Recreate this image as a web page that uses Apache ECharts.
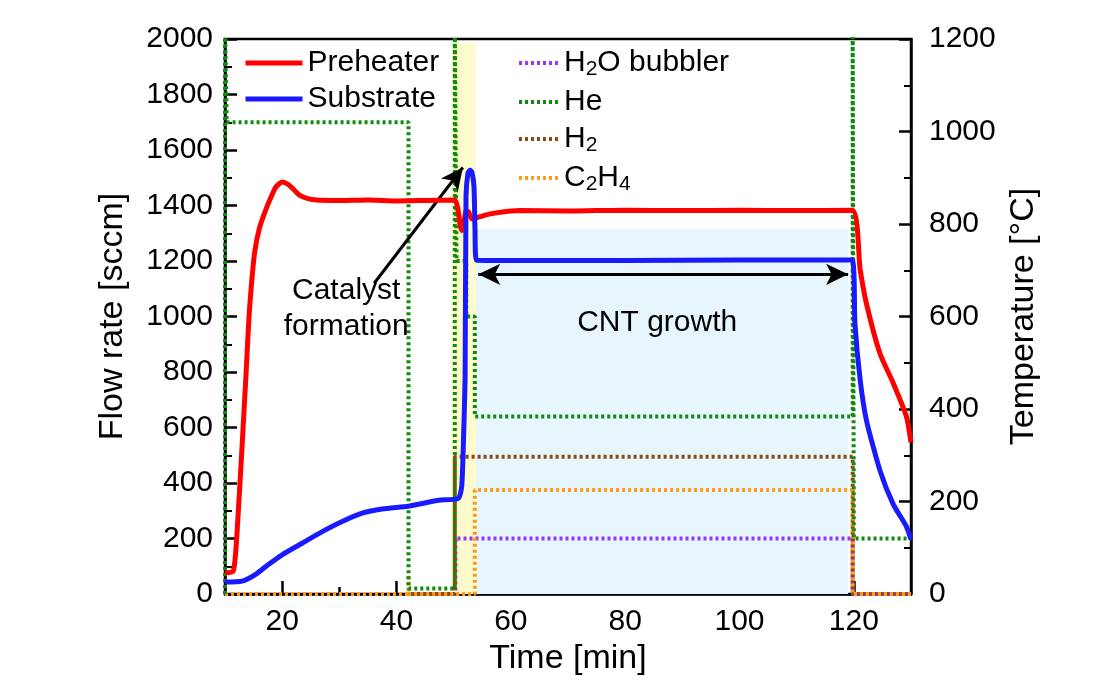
<!DOCTYPE html>
<html>
<head>
<meta charset="utf-8">
<script src="https://cdn.jsdelivr.net/npm/echarts@6/dist/echarts.min.js"></script>
<style>
  html, body { margin: 0; padding: 0; background: #fff; }
  #chart { width: 1108px; height: 681px; }
</style>
</head>
<body>
<div id="chart"></div>
<script>
// temperature curves, [time min, °C] (right axis)
var preheaterT = [10,11.4,11.8,12.1,12.5,12.9,13.3,13.7,14.2,14.7,15.2,16.0,16.8,17.9,18.9,20,21,22,23.1,24.5,26,30,35,40,45,50.2,50.7,51.1,51.4,51.8,52.2,52.6,53.2,54.6,56.4,61.6,70,80,90,100,110,119.7,121.1,122.3,124.6,126.9,129.2,130];
var preheaterV = [46,49,80,132,215,300,390,480,600,680,740,790,820,854,880,891,886,875,862,855,852,851,852,850,851,852,835,800,786,805,829,826,811,816,822,829,828,830,829,830,829,830,702,623,519,456,384,328];
var substrateT = [10,13,15.3,17.6,20,23.5,27,30.5,34,37.5,42.1,44.5,47.4,50.8,51.4,51.7,52.0,52.16,52.5,52.86,53.2,53.56,53.73,53.95,60,80,100,119.7,120.2,121.1,122.2,124.6,126.9,129.2,130];
var substrateV = [26,28,42,64,85,110,135,157,175,184,190,196,203,207,232,325,468,860,910,916,912,880,790,722,721,721,722,722,584,464,376,266,194,146,118];

// gas flows, [time min, sccm] (left axis); 2050 = off scale
var h2oT = [10,50.3,50.3,119.8,119.8,130];
var h2oV = [0,0,200,200,0,0];
var heT = [10,10,10.3,10.3,42.1,42.1,50.2,50.2,50.5,50.5,52.2,52.2,53.7,53.7,119.8,119.8,120.0,120.0,130];
var heV = [0,2050,2050,1700,1700,20,20,2050,2050,1200,1200,1000,1000,640,640,2050,2050,200,200];
var h2T = [10,50.2,50.2,119.8,119.8,130];
var h2V = [0,0,495,495,0,0];
var c2h4T = [10,42.1,42.1,42.1,53.7,53.7,119.8,119.8,130];
var c2h4V = [0,0,70,0,0,375,375,0,0];

// highlighted periods [start, end, top flow]
var catalystBand = [49.6, 53.9, 1985];
var growthBand = [53.9, 119.0, 1315];

var xMajor = [20,40,60,80,100,120];
var xMinor = [30,50,70,90,110];

function pairs(t, v) {
  return t.map(function (x, i) { return [x, v[i]]; });
}

var FONT = 'Liberation Sans';
var rich = {
  n: { fontSize: 30, fontFamily: FONT, color: '#000' },
  s: { fontSize: 21, fontFamily: FONT, color: '#000', verticalAlign: 'bottom', padding: [13, 0, 0, 0] }
};
var gasNames = {
  'H2O bubbler': '{n|H}{s|2}{n|O bubbler}',
  'He': '{n|He}',
  'H2': '{n|H}{s|2}',
  'C2H4': '{n|C}{s|2}{n|H}{s|4}'
};

var chart = echarts.init(document.getElementById('chart'));
var axisLine = { lineStyle: { color: '#000', width: 2.5 } };
var labelStyle = { fontSize: 30, fontFamily: FONT, color: '#000', formatter: function (v) { return String(v); } };
var nameStyle = { fontSize: 34, fontFamily: FONT, color: '#000' };
var dotted = function (c) {
  return { type: [3, 3], width: 4, color: c };
};

var option = {
  animation: false,
  backgroundColor: '#fff',
  grid: { left: 225, right: 197, top: 39, bottom: 83, show: true, borderColor: '#000', borderWidth: 2.5 },
  legend: [
    {
      data: ['Preheater', 'Substrate'],
      orient: 'vertical', left: 238, top: 43,
      itemWidth: 57, itemHeight: 16, itemGap: 6,
      itemStyle: { opacity: 0 },
      lineStyle: { width: 5 },
      textStyle: { fontSize: 30, fontFamily: FONT, color: '#000' }
    },
    {
      data: ['H2O bubbler', 'He', 'H2', 'C2H4'],
      orient: 'vertical', left: 512, top: 43,
      itemWidth: 40, itemHeight: 16, itemGap: 7,
      itemStyle: { opacity: 0 },
      lineStyle: { width: 4 },
      formatter: function (name) { return gasNames[name]; },
      textStyle: { rich: rich }
    }
  ],
  xAxis: [
    {
      type: 'value', min: 10, max: 130, interval: 10,
      axisLine: axisLine,
      axisTick: { inside: true, length: 13, customValues: xMajor, lineStyle: { color: '#000', width: 2.5 } },
      axisLabel: Object.assign({ margin: 13, customValues: xMajor }, labelStyle),
      splitLine: { show: false },
      name: 'Time [min]', nameLocation: 'middle', nameGap: 46,
      nameTextStyle: nameStyle
    },
    {
      type: 'value', min: 10, max: 130, interval: 10, position: 'bottom',
      axisLine: { show: false },
      axisTick: { inside: true, length: 7, customValues: xMinor, lineStyle: { color: '#000', width: 2.5 } },
      axisLabel: { show: false },
      splitLine: { show: false }
    }
  ],
  yAxis: [
    {
      type: 'value', min: 0, max: 2000, interval: 200,
      axisLine: Object.assign({ show: true }, axisLine),
      axisTick: { inside: true, length: 12, lineStyle: { color: '#000', width: 2.5 } },
      minorTick: { show: true, splitNumber: 2, length: 7, lineStyle: { color: '#000', width: 2 } },
      axisLabel: Object.assign({ margin: 12 }, labelStyle),
      splitLine: { show: false },
      name: 'Flow rate [sccm]', nameLocation: 'middle', nameGap: 95, nameRotate: 90,
      nameTextStyle: nameStyle
    },
    {
      type: 'value', min: 0, max: 1200, interval: 200, position: 'right',
      axisLine: Object.assign({ show: true }, axisLine),
      axisTick: { inside: true, length: 12, lineStyle: { color: '#000', width: 2.5 } },
      minorTick: { show: true, splitNumber: 2, length: 7, lineStyle: { color: '#000', width: 2 } },
      axisLabel: Object.assign({ margin: 18 }, labelStyle),
      splitLine: { show: false },
      name: 'Temperature [°C]', nameLocation: 'middle', nameGap: 94, nameRotate: 90,
      nameTextStyle: nameStyle
    }
  ],
  series: [
    {
      name: 'bands', type: 'line', data: [], z: 1, silent: true,
      markArea: {
        silent: true,
        data: [
          [{ coord: [catalystBand[0], 0], itemStyle: { color: '#fdfbcc' } }, { coord: [catalystBand[1], catalystBand[2]] }],
          [{ coord: [growthBand[0], 0], itemStyle: { color: '#e6f6fc' } }, { coord: [growthBand[1], growthBand[2]] }]
        ]
      }
    },
    {
      name: 'H2O bubbler', type: 'line', data: pairs(h2oT, h2oV), symbol: 'none', z: 3,
      color: '#9933ff', lineStyle: dotted('#9933ff')
    },
    {
      name: 'H2', type: 'line', data: pairs(h2T, h2V), symbol: 'none', z: 3,
      color: '#8b4a14', lineStyle: dotted('#8b4a14')
    },
    {
      name: 'C2H4', type: 'line', data: pairs(c2h4T, c2h4V), symbol: 'none', z: 3,
      color: '#ff9a1a', lineStyle: dotted('#ff9a1a')
    },
    {
      name: 'He', type: 'line', data: pairs(heT, heV), symbol: 'none', z: 3,
      color: '#128a12', lineStyle: dotted('#128a12')
    },
    {
      name: 'Preheater', type: 'line', yAxisIndex: 1, data: pairs(preheaterT, preheaterV), symbol: 'none', z: 5,
      smooth: 0.2,
      color: '#ff0000', lineStyle: { width: 5, color: '#ff0000' }
    },
    {
      name: 'Substrate', type: 'line', yAxisIndex: 1, data: pairs(substrateT, substrateV), symbol: 'none', z: 6,
      smooth: 0.2,
      color: '#1a1aff', lineStyle: { width: 5, color: '#1a1aff' }
    },
    {
      name: 'notes', type: 'line', data: [], z: 8, silent: true,
      markLine: {
        silent: true,
        symbolSize: [16, 22],
        lineStyle: { color: '#000', width: 3, type: 'solid' },
        label: { show: false },
        data: [
          [{ coord: [36.1, 1120], symbol: 'none' }, { coord: [51.6, 1537], symbol: 'arrow' }],
          [{ coord: [54.3, 1152], symbol: 'arrow' }, { coord: [119.0, 1152], symbol: 'arrow' }]
        ]
      },
      markPoint: {
        silent: true,
        symbol: 'rect', symbolSize: 0,
        label: { show: true, position: 'inside', fontSize: 30, fontFamily: FONT, color: '#000', lineHeight: 36, formatter: '{b}' },
        data: [
          { name: 'Catalyst\nformation', coord: [31.2, 1027] },
          { name: 'CNT growth', coord: [85.6, 977] }
        ]
      }
    }
  ]
};
chart.setOption(option);
</script>
</body>
</html>
